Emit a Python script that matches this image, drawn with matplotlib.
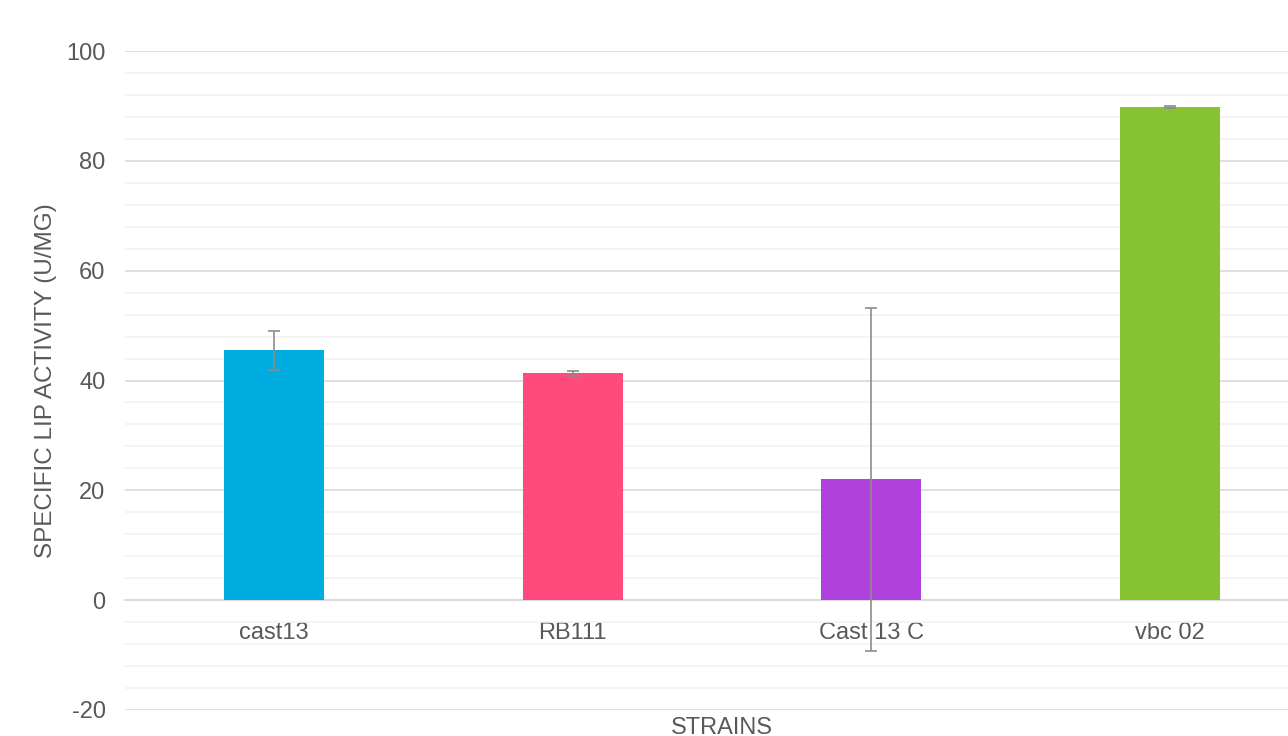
import numpy as np
import matplotlib.pyplot as plt
from matplotlib.ticker import MultipleLocator

strains = ['cast13', 'RB111', 'Cast 13 C', 'vbc 02']
activity = [45.5, 41.3, 22.0, 89.8]
std_err = [3.5, 0.4, 31.2, 0.2]
colors = ['#00ADE0', '#FF4A7D', '#B040DC', '#86C232']

plt.rcParams['font.family'] = ['Liberation Sans', 'DejaVu Sans']
plt.rcParams['axes.unicode_minus'] = False
text_col = '#595959'

fig = plt.figure(figsize=(12.88, 7.36), dpi=100)
ax = fig.add_axes([125/1288, 1-710/736, (1319-125)/1288, (710-51)/736])

x = np.arange(len(strains))
ax.bar(x, activity, width=0.335, color=colors, zorder=3)
ax.errorbar(x, activity, yerr=std_err, fmt='none', ecolor='#8c8c8c',
            elinewidth=1.2, capsize=4, capthick=1.2, zorder=5)

ax.set_xlim(-0.5, 3.5)
ax.set_ylim(-20, 100)
ax.yaxis.set_major_locator(MultipleLocator(20))
ax.yaxis.set_minor_locator(MultipleLocator(4))
ax.grid(which='major', axis='y', color='#d9d9d9', linewidth=1.2, zorder=0)
ax.grid(which='minor', axis='y', color='#f2f2f2', linewidth=1.2, zorder=0)

for s in ['top', 'right', 'left']:
    ax.spines[s].set_visible(False)
ax.spines['bottom'].set_position(('data', 0))
ax.spines['bottom'].set_color('#d9d9d9')
ax.spines['bottom'].set_linewidth(1.2)

ax.set_xticks(x)
ax.set_xticklabels(strains)
ax.tick_params(axis='x', length=0, pad=16, labelsize=17, labelcolor=text_col)
ax.tick_params(axis='y', which='both', length=0, pad=14, labelsize=17, labelcolor=text_col)

ax.set_ylabel('SPECIFIC LIP ACTIVITY (U/MG)', fontsize=17.5, color=text_col)
ax.yaxis.set_label_coords(-0.057, 0.5)
ax.set_xlabel('STRAINS', fontsize=17, color=text_col)
ax.xaxis.set_label_coords(0.5, -0.01)

fig.savefig('out.png', dpi=100)
